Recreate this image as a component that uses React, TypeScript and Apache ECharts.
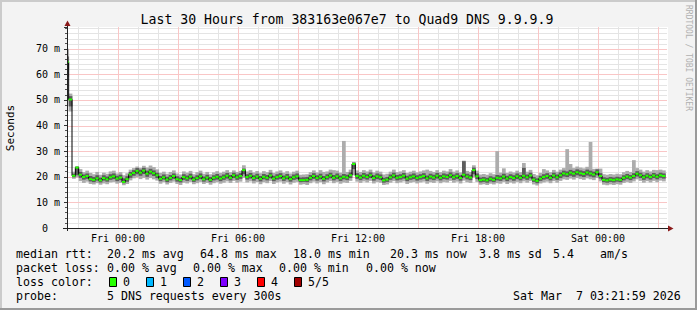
import React, { useEffect, useRef } from "react";
import * as echarts from "echarts";

// time axis: hours relative to Fri 00:00
const X_MIN = -2.55;
const X_MAX = 27.45;
const FIRST_SAMPLE_HOUR = -2.55;
const STEP_HOURS = 1 / 6;
const Y_MAX = 78.5;

const median = [
  64.8, 50.2, 20.4, 23.6, 20.8, 19.9, 20.3, 19.1, 18.8, 19.4,
  18.6, 19.5, 19.0, 19.8, 20.2, 19.3, 19.7, 18.0, 19.1, 20.9,
  21.5, 22.3, 21.6, 22.4, 21.2, 22.0, 21.4, 20.6, 19.2, 19.8,
  18.9, 19.6, 20.3, 19.1, 18.7, 19.9, 19.4, 20.1, 18.9, 19.5,
  20.2, 19.0, 19.7, 18.8, 19.6, 20.0, 19.3, 19.8, 20.4, 19.6,
  20.6, 19.8, 20.3, 22.6, 19.9, 20.4, 19.5, 20.1, 19.2, 20.0,
  19.6, 20.5, 19.3, 19.9, 20.3, 19.4, 20.0, 19.1, 19.8, 20.2,
  18.7, 18.7, 18.8, 19.6, 20.3, 19.5, 20.1, 19.2, 19.9, 20.5,
  19.6, 20.2, 19.4, 20.0, 19.7, 20.6, 25.0, 20.3, 19.7, 20.4,
  19.9, 20.6, 19.5, 20.2, 19.8, 18.6, 18.9, 19.8, 20.5, 19.6,
  19.9, 20.4, 19.3, 19.8, 20.2, 19.5, 19.9, 20.3, 19.4, 20.1,
  19.7, 20.4, 19.6, 20.2, 19.9, 20.6, 19.8, 20.3, 19.5, 20.8,
  20.1, 19.7, 22.6, 20.2, 18.7, 18.9, 18.6, 19.2, 18.8, 19.6,
  19.4, 20.1, 19.3, 19.9, 19.5, 20.2, 19.6, 20.4, 19.8, 20.5,
  18.9, 18.4, 19.3, 19.9, 20.3, 19.6, 20.5, 19.8, 20.6, 21.3,
  21.0, 21.6, 21.2, 21.8, 21.4, 21.1, 21.7, 21.3, 20.9, 21.8,
  20.3, 18.8, 18.6, 18.9, 18.7, 19.0, 18.8, 19.6, 20.1, 19.7,
  20.3, 21.2, 20.6, 19.8, 20.4, 19.9, 20.5, 20.0, 20.6, 20.3,
];

const pingMin = [
  59.0, 45.5, 19.2, 19.8, 18.3, 17.6, 18.1, 17.2, 17.0, 17.5,
  16.9, 17.4, 17.1, 17.8, 18.0, 17.3, 17.6, 16.7, 17.2, 18.6,
  19.4, 19.8, 19.1, 19.6, 18.9, 19.5, 19.0, 18.5, 17.3, 17.9,
  17.0, 17.6, 18.1, 17.2, 16.8, 17.7, 17.4, 18.0, 17.1, 17.5,
  18.0, 17.2, 17.6, 16.9, 17.5, 17.9, 17.3, 17.7, 18.2, 17.6,
  18.4, 17.7, 18.1, 19.6, 17.8, 18.2, 17.4, 18.0, 17.1, 17.9,
  17.5, 18.3, 17.2, 17.8, 18.1, 17.3, 17.9, 17.0, 17.7, 18.0,
  16.9, 17.1, 16.8, 17.5, 18.1, 17.4, 17.9, 17.1, 17.8, 18.3,
  17.5, 18.0, 17.3, 17.8, 17.6, 18.4, 20.6, 18.1, 17.6, 18.2,
  17.8, 18.4, 17.4, 18.0, 17.7, 16.8, 17.0, 17.7, 18.3, 17.5,
  17.8, 18.2, 17.2, 17.7, 18.0, 17.4, 17.8, 18.1, 17.3, 17.9,
  17.6, 18.2, 17.5, 18.0, 17.8, 18.4, 17.7, 18.1, 17.4, 18.5,
  17.9, 17.6, 19.8, 18.0, 16.9, 17.1, 16.8, 17.3, 17.0, 17.5,
  17.3, 18.0, 17.2, 17.8, 17.4, 18.0, 17.5, 18.2, 17.7, 18.3,
  17.0, 16.6, 17.4, 17.8, 18.1, 17.5, 18.3, 17.7, 18.4, 19.0,
  18.8, 19.3, 18.9, 19.5, 19.1, 18.8, 19.4, 19.0, 18.7, 19.5,
  18.2, 16.9, 16.7, 17.0, 16.8, 17.1, 16.9, 17.6, 18.0, 17.6,
  18.2, 19.0, 18.4, 17.7, 18.3, 17.8, 18.4, 17.9, 18.5, 18.2,
];

const pingMax = [
  70.0, 52.5, 22.0, 24.2, 23.0, 21.8, 22.4, 21.5, 21.0, 21.9,
  20.8, 21.6, 21.2, 22.1, 22.4, 21.3, 21.8, 20.6, 21.4, 22.8,
  23.4, 24.0, 23.5, 24.3, 23.6, 24.4, 23.8, 22.9, 21.5, 22.0,
  21.2, 21.9, 22.5, 21.3, 20.9, 22.1, 21.6, 22.3, 21.0, 21.8,
  22.4, 21.2, 21.9, 21.0, 21.7, 22.2, 21.5, 22.0, 22.6, 21.8,
  22.5, 21.9, 22.3, 24.5, 22.1, 22.6, 21.7, 22.3, 21.4, 22.2,
  21.8, 22.7, 21.5, 22.1, 22.5, 21.6, 22.2, 21.3, 22.0, 22.4,
  20.8, 20.9, 21.0, 21.8, 22.5, 21.7, 22.6, 21.9, 22.1, 22.8,
  22.6, 22.4, 21.6, 34.0, 21.9, 22.8, 25.8, 22.5, 21.9, 22.6,
  22.1, 22.8, 21.7, 22.4, 22.0, 20.9, 21.2, 22.0, 22.8, 21.8,
  22.1, 22.6, 21.5, 22.0, 22.4, 21.7, 22.1, 22.5, 22.8, 22.3,
  21.9, 22.6, 21.8, 22.4, 22.1, 23.0, 22.0, 22.5, 21.7, 26.3,
  22.3, 21.9, 24.5, 22.4, 20.9, 21.1, 20.8, 21.4, 21.0, 30.0,
  21.6, 23.3, 21.5, 22.1, 21.7, 22.4, 21.8, 25.4, 22.0, 22.7,
  21.1, 20.6, 21.5, 23.0, 22.5, 21.8, 22.7, 22.0, 22.8, 23.4,
  30.8, 25.0, 23.4, 24.0, 23.6, 23.3, 23.9, 33.6, 23.1, 23.2,
  23.2, 21.0, 20.8, 21.1, 20.9, 21.2, 21.0, 21.8, 22.3, 21.9,
  26.5, 23.4, 22.8, 22.0, 22.6, 22.1, 22.7, 22.6, 22.8, 22.5,
];

const innerLo = [
  62.0, 47.5, 19.8, 20.6, 19.6, 18.9, 19.2, 18.2, 17.9, 18.5,
  17.8, 18.5, 18.1, 18.8, 19.1, 18.3, 18.7, 17.5, 18.1, 19.6,
  20.4, 21.0, 20.4, 21.1, 20.0, 20.9, 20.3, 19.5, 18.3, 18.9,
  17.9, 18.6, 19.2, 18.1, 17.8, 18.8, 18.4, 19.0, 18.0, 18.6,
  19.1, 18.1, 18.7, 17.9, 18.6, 18.9, 18.3, 18.8, 19.3, 18.6,
  19.5, 18.8, 19.2, 21.0, 18.9, 19.3, 18.5, 19.1, 18.2, 19.0,
  18.6, 19.4, 18.3, 18.9, 19.2, 18.4, 19.0, 18.1, 18.8, 19.1,
  17.9, 18.0, 17.9, 18.6, 19.2, 18.5, 19.0, 18.2, 18.9, 19.4,
  18.6, 19.1, 18.4, 19.0, 18.7, 19.5, 23.0, 19.2, 18.7, 19.3,
  18.9, 19.5, 18.5, 19.1, 18.8, 17.7, 18.0, 18.8, 19.4, 18.6,
  18.9, 19.3, 18.3, 18.8, 19.1, 18.5, 18.9, 19.2, 18.4, 19.0,
  18.7, 19.3, 18.6, 19.1, 18.9, 19.5, 18.8, 19.2, 18.5, 19.7,
  19.0, 18.7, 21.0, 19.1, 17.8, 18.0, 17.7, 18.2, 17.9, 18.6,
  18.4, 19.0, 18.3, 18.9, 18.5, 19.1, 18.6, 19.3, 18.8, 19.4,
  18.0, 17.5, 18.4, 18.9, 19.2, 18.6, 19.4, 18.8, 19.5, 20.1,
  19.9, 20.4, 20.0, 20.6, 20.2, 19.9, 20.5, 20.1, 19.8, 20.6,
  19.3, 17.9, 17.7, 18.0, 17.8, 18.1, 17.9, 18.6, 19.1, 18.7,
  19.3, 20.1, 19.5, 18.8, 19.4, 18.9, 19.5, 19.0, 19.6, 19.3,
];

const innerHi = [
  67.0, 51.5, 21.2, 23.9, 21.9, 20.9, 21.3, 20.3, 19.9, 20.6,
  19.7, 20.6, 20.1, 21.0, 21.3, 20.4, 20.8, 19.4, 20.2, 21.9,
  22.6, 23.4, 22.8, 23.5, 22.4, 23.1, 22.5, 21.6, 20.3, 20.9,
  20.0, 20.7, 21.3, 20.2, 19.7, 21.0, 20.5, 21.2, 20.0, 20.6,
  21.3, 20.1, 20.8, 19.9, 20.6, 21.1, 20.4, 20.9, 21.5, 20.7,
  21.6, 20.9, 21.4, 23.2, 21.0, 21.5, 20.6, 21.2, 20.3, 21.1,
  20.7, 21.6, 20.4, 21.0, 21.4, 20.5, 21.1, 20.2, 20.9, 21.3,
  19.7, 19.8, 19.9, 20.7, 21.4, 20.6, 21.2, 20.3, 21.0, 21.6,
  20.7, 21.3, 20.5, 21.1, 20.8, 21.7, 25.5, 21.4, 20.8, 21.5,
  21.0, 21.7, 20.6, 21.3, 20.9, 19.6, 19.9, 20.9, 21.6, 20.7,
  21.0, 21.5, 20.4, 20.9, 21.3, 20.6, 21.0, 21.4, 20.5, 21.2,
  20.8, 21.5, 20.7, 21.3, 21.0, 21.7, 20.9, 21.4, 20.6, 26.1,
  21.2, 20.8, 23.6, 21.3, 19.7, 19.9, 19.6, 20.2, 19.8, 20.7,
  20.5, 21.2, 20.4, 21.0, 20.6, 21.3, 20.7, 23.5, 20.9, 21.6,
  19.9, 19.4, 20.4, 21.0, 21.4, 20.7, 21.6, 20.9, 21.7, 22.4,
  22.1, 22.7, 22.3, 22.9, 22.5, 22.2, 22.8, 22.4, 22.0, 22.9,
  21.4, 19.8, 19.6, 19.9, 19.7, 20.0, 19.8, 20.6, 21.1, 20.7,
  21.4, 22.2, 21.6, 20.8, 21.4, 20.9, 21.5, 21.0, 21.6, 21.3,
];

const xTickHours = [0, 6, 12, 18, 24];
const xTickLabels = ["Fri 00:00", "Fri 06:00", "Fri 12:00", "Fri 18:00", "Sat 00:00"];
const yTickValues = [0, 10, 20, 30, 40, 50, 60, 70];
const yTickLabels = ["0", "10 m", "20 m", "30 m", "40 m", "50 m", "60 m", "70 m"];

const lossLabels = ["0", "1", "2", "3", "4", "5/5"];
const lossColors = ["#26ff00", "#00b8ff", "#0059ff", "#7e00ff", "#ff0000", "#a10000"];

const MONO = "'DejaVu Sans Mono', monospace";
const MINOR_GRID = "#e4e4e4";
const MAJOR_GRID = "#f9c6c6";

export default function App() {
  const ref = useRef<HTMLDivElement>(null);

  useEffect(() => {
    if (!ref.current) return;
    const chart = echarts.init(ref.current, undefined, { renderer: "svg" });

    const hourOf = (i: number) => FIRST_SAMPLE_HOUR + i * STEP_HOURS;

    const bandSeries = (lo: number[], hi: number[], color: string, z: number) => ({
      type: "custom",
      z,
      silent: true,
      data: lo.map((v, i) => [hourOf(i), v, hi[i]]),
      encode: { x: 0, y: [1, 2] },
      renderItem: (params: any, api: any) => {
        const x = api.value(0);
        const l = api.value(1);
        const h = api.value(2);
        const cs = params.coordSys;
        const p1 = api.coord([x - STEP_HOURS / 2, h]);
        const p2 = api.coord([x + STEP_HOURS / 2, l]);
        const left = Math.max(p1[0], cs.x);
        const right = Math.min(p2[0] + 0.4, cs.x + cs.width);
        if (right <= left) return null;
        return {
          type: "rect",
          shape: { x: left, y: p1[1], width: right - left, height: p2[1] - p1[1] },
          style: { fill: color },
        };
      },
    });

    // grid lines drawn as thin rects: [hour, ms, isVertical(1/0), isMajor(1/0)]
    const gridItems: number[][] = [];
    for (let v = 2; v <= Y_MAX; v += 2) gridItems.push([X_MIN, v, 0, v % 10 === 0 ? 1 : 0]);
    for (let h = Math.ceil(X_MIN); h <= Math.floor(X_MAX); h++) gridItems.push([h, 0, 1, h % 3 === 0 ? 1 : 0]);
    gridItems.sort((a, b) => a[3] - b[3]);

    const option: any = {
      animation: false,
      backgroundColor: "#f3f3f3",
      textStyle: { fontFamily: MONO },
      grid: {
        left: 67,
        right: 30,
        top: 27,
        bottom: 82,
        show: false,
      },
      xAxis: {
        type: "value",
        min: X_MIN,
        max: X_MAX,
        axisLine: { show: false, onZero: false },
        axisTick: { show: false },
        splitLine: { show: false },
        axisLabel: {
          customValues: xTickHours,
          margin: 5,
          fontFamily: MONO,
          fontSize: 10,
          color: "#000",
          formatter: (v: number) => {
            const k = xTickHours.indexOf(Math.round(v));
            return k >= 0 ? xTickLabels[k] : "";
          },
        },
      },
      yAxis: [
        {
          type: "value",
          position: "left",
          min: 0,
          max: Y_MAX,
          interval: 2,
          axisLine: { show: false, onZero: false },
          axisTick: { show: true, length: 2, lineStyle: { color: "#555" } },
          axisLabel: { show: false },
          splitLine: { show: false },
        },
        {
          type: "value",
          position: "left",
          min: 0,
          max: Y_MAX,
          interval: 10,
          axisLine: { show: false, onZero: false },
          axisTick: { show: true, length: 3, lineStyle: { color: "#333" } },
          splitLine: { show: false },
          axisLabel: {
            show: true,
            margin: 7,
            fontFamily: MONO,
            fontSize: 10,
            color: "#000",
            formatter: (v: number) => {
              const k = yTickValues.indexOf(Math.round(v));
              if (k < 0) return "";
              return v === 0 ? "{z|" + yTickLabels[k] + "}" : yTickLabels[k];
            },
            rich: {
              z: { fontFamily: MONO, fontSize: 10, color: "#000", padding: [0, 12, 0, 0] },
            },
          },
        },
      ],
      series: [
        {
          type: "custom",
          z: 1,
          silent: true,
          data: gridItems,
          encode: { x: 0, y: 1 },
          renderItem: (params: any, api: any) => {
            const h = api.value(0);
            const v = api.value(1);
            const vertical = api.value(2) === 1;
            const major = api.value(3) === 1;
            const cs = params.coordSys;
            const p = api.coord([h, v]);
            const fill = major ? MAJOR_GRID : MINOR_GRID;
            if (vertical) {
              const x = Math.round(p[0]);
              return {
                type: "rect",
                shape: { x, y: cs.y, width: 1, height: cs.height },
                style: { fill },
              };
            }
            const y = Math.round(p[1]);
            return {
              type: "rect",
              shape: { x: cs.x, y, width: cs.width, height: 1 },
              style: { fill },
            };
          },
        },
        bandSeries(pingMin, pingMax, "#acacac", 2),
        bandSeries(innerLo, innerHi, "#5c5c5c", 3),
        {
          type: "line",
          z: 4,
          silent: true,
          step: "middle",
          showSymbol: false,
          symbol: "none",
          data: median.map((v, i) => [hourOf(i), v]),
          lineStyle: { color: "#000", width: 1 },
        },
        {
          type: "custom",
          z: 5,
          silent: true,
          data: median.map((v, i) => [hourOf(i), v]),
          encode: { x: 0, y: 1 },
          renderItem: (params: any, api: any) => {
            const x = api.value(0);
            const m = api.value(1);
            const cs = params.coordSys;
            const p1 = api.coord([x - STEP_HOURS / 2, m]);
            const p2 = api.coord([x + STEP_HOURS / 2, m]);
            const left = Math.max(p1[0], cs.x + 1);
            if (p2[0] <= left) return null;
            return {
              type: "line",
              shape: { x1: left, y1: p1[1], x2: p2[0], y2: p2[1] },
              style: { stroke: lossColors[0], lineWidth: 2 },
            };
          },
        },
      ],
      graphic: [
        // canvas
        { type: "rect", z: -100, shape: { x: 67, y: 27, width: 601, height: 201 }, style: { fill: "#ffffff" }, silent: true },
        // frame
        { type: "line", shape: { x1: 0, y1: 1, x2: 697, y2: 1 }, style: { stroke: "#cbcbcb", lineWidth: 2 }, z: 100 },
        { type: "line", shape: { x1: 1, y1: 0, x2: 1, y2: 310 }, style: { stroke: "#cbcbcb", lineWidth: 2 }, z: 100 },
        { type: "line", shape: { x1: 0, y1: 309, x2: 697, y2: 309 }, style: { stroke: "#9a9a9a", lineWidth: 2 }, z: 100 },
        { type: "line", shape: { x1: 696, y1: 0, x2: 696, y2: 310 }, style: { stroke: "#9a9a9a", lineWidth: 2 }, z: 100 },
        // axes
        { type: "line", shape: { x1: 67.5, y1: 231, x2: 67.5, y2: 25 }, style: { stroke: "#222", lineWidth: 1 }, z: 50 },
        { type: "line", shape: { x1: 63, y1: 228.5, x2: 669, y2: 228.5 }, style: { stroke: "#222", lineWidth: 1 }, z: 50 },
        { type: "polygon", shape: { points: [[64.5, 26], [67.5, 20.5], [70.5, 26]] }, style: { fill: "#8b1a1a" }, z: 51 },
        { type: "polygon", shape: { points: [[668, 225.5], [673.5, 228.5], [668, 231.5]] }, style: { fill: "#8b1a1a" }, z: 51 },
        // title
        {
          type: "text", x: 347, y: 19, z: 60,
          style: { text: "Last 30 Hours from 383163e067e7 to Quad9 DNS 9.9.9.9", font: "13.2px " + MONO, fill: "#000", textAlign: "center", textVerticalAlign: "middle" },
        },
        // watermark
        {
          type: "text", x: 688, y: 5, rotation: -Math.PI / 2, z: 60,
          style: { text: "RRDTOOL / TOBI OETIKER", font: "8px " + MONO, fill: "#b0b0b0", textAlign: "left", textVerticalAlign: "middle" },
        },
        // y axis name
        {
          type: "text", x: 10, y: 128, rotation: Math.PI / 2, z: 60,
          style: { text: "Seconds", font: "11px " + MONO, fill: "#000", textAlign: "center", textVerticalAlign: "middle" },
        },
        // legend rows
        ...[
          ["median rtt:", 16, 254], ["20.2 ms avg", 107, 254], ["64.8 ms max", 200, 254], ["18.0 ms min", 293, 254],
          ["20.3 ms now", 390, 254], ["3.8 ms sd", 479, 254], ["5.4", 553, 254], ["am/s", 600, 254],
          ["packet loss:", 16, 268], ["0.00 % avg", 107, 268], ["0.00 % max", 193, 268], ["0.00 % min", 279, 268], ["0.00 % now", 366, 268],
          ["loss color:", 16, 282],
          ["probe:", 16, 296], ["5 DNS requests every 300s", 107, 296],
          ["Sat Mar", 513, 296], ["7 03:21:59 2026", 576, 296],
        ].map(([t, x, y]) => ({
          type: "text", x, y, z: 60,
          style: { text: t, font: "11.6px " + MONO, fill: "#000", textAlign: "left", textVerticalAlign: "middle" },
        })),
        ...lossLabels.map((lab, k) => ({
          type: "group", z: 60,
          children: [
            { type: "rect", shape: { x: 109.5 + k * 37, y: 277.5, width: 7, height: 9 }, style: { fill: lossColors[k], stroke: "#000", lineWidth: 1 } },
            { type: "text", x: 123 + k * 37, y: 282, style: { text: lab, font: "11.6px " + MONO, fill: "#000", textAlign: "left", textVerticalAlign: "middle" } },
          ],
        })),
      ],
    };

    chart.setOption(option);
    return () => chart.dispose();
  }, []);

  return (
    <div
      ref={ref}
      style={{ position: "fixed", left: 0, top: 0, width: 697, height: 310 }}
    />
  );
}
